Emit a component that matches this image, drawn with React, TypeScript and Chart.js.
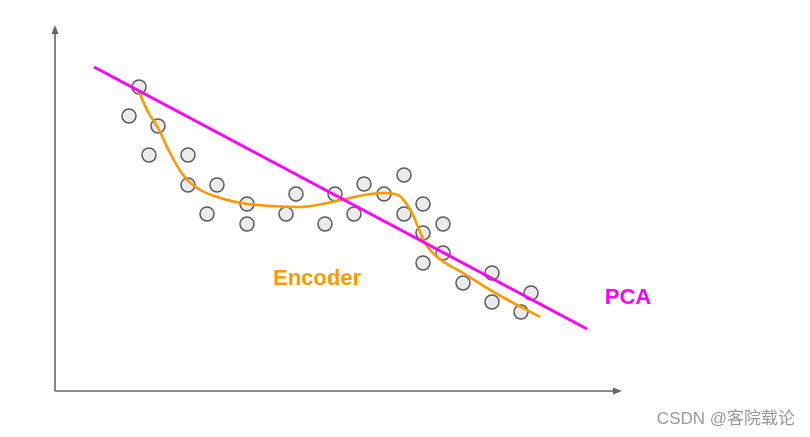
import React, { useEffect, useRef } from "react";
import { Chart, registerables } from "chart.js";

Chart.register(...registerables);

// Scatter observations (arbitrary units, origin at the axes' corner)
const pointX = [84, 74, 103, 94, 133, 133, 162, 152, 192, 192, 231, 241, 270, 280, 299, 309, 329, 349, 349, 368, 368, 388, 388, 368, 408, 437, 437, 466, 476];
const pointY = [304, 275, 265, 236, 236, 206, 206, 177, 187, 167, 177, 197, 167, 197, 177, 207, 197, 216, 177, 187, 158, 167, 138, 128, 108, 118, 89, 79, 98];

// PCA linear fit
const pcaX = [39, 532];
const pcaY = [324, 62];

// Encoder non-linear fit
const encoderX = [84, 93, 103, 115, 128, 142, 162, 192, 218, 245, 272, 295, 315, 330, 343, 351, 358, 365, 372, 382, 408, 442, 485];
const encoderY = [299, 279, 263, 238, 216, 203, 194, 187, 185, 184, 188, 193, 197, 198, 196, 188, 176, 159, 145, 134, 118, 97, 74];

const X_MAX = 567;
const Y_MAX = 366;

const zip = (xs: number[], ys: number[]) => xs.map((x, i) => ({ x, y: ys[i] }));

const overlay = {
  id: "overlay",
  beforeDatasetsDraw(chart: any) {
    const { ctx, chartArea } = chart;
    const { left, right, top, bottom } = chartArea;
    ctx.save();
    ctx.strokeStyle = "#666666";
    ctx.fillStyle = "#666666";
    ctx.lineWidth = 1.6;
    ctx.beginPath();
    ctx.moveTo(left, bottom);
    ctx.lineTo(left, top + 6);
    ctx.moveTo(left, bottom);
    ctx.lineTo(right - 6, bottom);
    ctx.stroke();
    // arrow heads
    ctx.beginPath();
    ctx.moveTo(left, top);
    ctx.lineTo(left - 3.5, top + 9);
    ctx.lineTo(left + 3.5, top + 9);
    ctx.closePath();
    ctx.fill();
    ctx.beginPath();
    ctx.moveTo(right, bottom);
    ctx.lineTo(right - 9, bottom - 3.5);
    ctx.lineTo(right - 9, bottom + 3.5);
    ctx.closePath();
    ctx.fill();
    ctx.restore();
  },
  afterDatasetsDraw(chart: any) {
    const { ctx } = chart;
    const xs = chart.scales.x;
    const ys = chart.scales.y;
    ctx.save();
    ctx.textAlign = "center";
    ctx.textBaseline = "middle";
    ctx.font = "bold 22px 'Liberation Sans', Arial, sans-serif";
    ctx.fillStyle = "#ff9900";
    ctx.fillText("Encoder", xs.getPixelForValue(262), ys.getPixelForValue(112));
    ctx.fillStyle = "#ff00ff";
    ctx.fillText("PCA", xs.getPixelForValue(573), ys.getPixelForValue(93));
    ctx.textAlign = "right";
    ctx.font = "17px 'Liberation Sans', 'Noto Sans CJK SC', sans-serif";
    ctx.fillStyle = "#9a9a9a";
    ctx.fillText("CSDN @客院载论", xs.getPixelForValue(740), ys.getPixelForValue(-28));
    ctx.restore();
  },
};

export default function App() {
  const ref = useRef<HTMLCanvasElement>(null);
  useEffect(() => {
    if (!ref.current) return;
    const chart = new Chart(ref.current, {
      type: "scatter",
      data: {
        datasets: [
          {
            label: "PCA",
            data: zip(pcaX, pcaY),
            showLine: true,
            borderColor: "#ff00ff",
            borderWidth: 3,
            pointRadius: 0,
            order: 0,
          },
          {
            label: "Encoder",
            data: zip(encoderX, encoderY),
            showLine: true,
            borderColor: "#ff9900",
            borderWidth: 2.6,
            pointRadius: 0,
            cubicInterpolationMode: "monotone",
            order: 1,
          },
          {
            label: "Data",
            data: zip(pointX, pointY),
            pointRadius: 7,
            pointBackgroundColor: "#ebebeb",
            pointBorderColor: "#5a5a5a",
            pointBorderWidth: 1.5,
            order: 2,
          },
        ],
      } as any,
      options: {
        animation: false,
        responsive: false,
        layout: { padding: { left: 55, right: 188, top: 25, bottom: 46 } },
        plugins: { legend: { display: false }, tooltip: { enabled: false } },
        scales: {
          x: { type: "linear", min: 0, max: X_MAX, display: false },
          y: { type: "linear", min: 0, max: Y_MAX, display: false },
        },
      },
      plugins: [overlay],
    });
    return () => chart.destroy();
  }, []);
  return (
    <div style={{ position: "fixed", left: 0, top: 0, width: 810, height: 437, background: "#ffffff" }}>
      <canvas ref={ref} width={810} height={437} style={{ display: "block" }} />
    </div>
  );
}
